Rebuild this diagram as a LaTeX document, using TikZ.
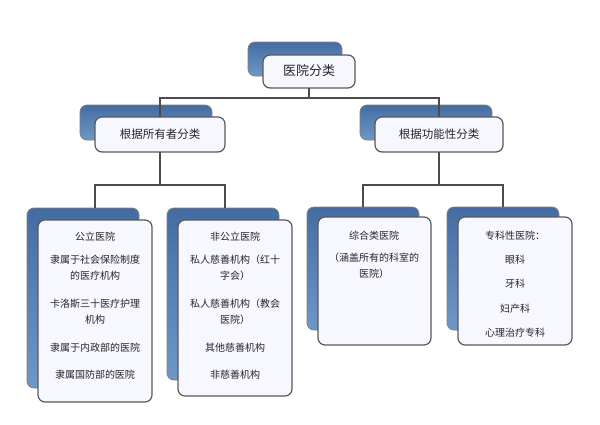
\documentclass[tikz,border=0pt]{standalone}
\usepackage{fontspec}
\newfontfamily\cjk{Noto Sans CJK SC}
\definecolor{bktop}{RGB}{68,108,162}
\definecolor{bkbot}{RGB}{110,152,200}
\begin{document}
\begin{tikzpicture}[x=1pt,y=-1pt,
  back/.style={draw=black!50,rounded corners=7pt,line width=0.8pt,top color=bktop,bottom color=bkbot},
  front/.style={draw=black!65,fill=blue!3!white,rounded corners=7pt,line width=1.2pt},
  conn/.style={draw=black!70,line width=1.2pt},
  txt/.style={font=\cjk\fontsize{10}{16}\selectfont,align=center,text=black!85}]
\useasboundingbox (0,0) rectangle (600,424);
% top
\draw[back] (248,42) rectangle (342,76);
\draw[front] (263,55) rectangle (355,88);
\node[txt,font=\cjk\fontsize{13}{16}\selectfont] (top) at (309,71) {医院分类};
% level 2
\draw[back] (80,105) rectangle (212,140);
\draw[front] (95,117) rectangle (225,152);
\node[txt,font=\cjk\fontsize{11.5}{16}\selectfont] (l) at (160,134) {根据所有者分类};
\draw[back] (360,105) rectangle (492,140);
\draw[front] (375,117) rectangle (503,152);
\node[txt,font=\cjk\fontsize{11.5}{16}\selectfont] (r) at (439,134) {根据功能性分类};
\coordinate (tb) at (309,88); \coordinate (tj) at (309,98);
\coordinate (lt) at (160,117); \coordinate (rt) at (439,117);
\draw[conn] (tb) -- (tj) (lt) |- (tj) -| (rt);
% level 3
\draw[back] (27,208) rectangle (139,388);
\draw[front] (38,220) rectangle (152,402);
\draw[back] (167,208) rectangle (279,380);
\draw[front] (178,220) rectangle (292,396);
\draw[back] (307,207) rectangle (419,330);
\draw[front] (318,217) rectangle (431,345);
\draw[back] (447,207) rectangle (559,330);
\draw[front] (458,217) rectangle (572,345);
\coordinate (lb) at (160,152); \coordinate (lj) at (160,185);
\coordinate (b1) at (95,208); \coordinate (b2) at (225,208);
\draw[conn] (lb) -- (lj) (b1) |- (lj) -| (b2);
\coordinate (rb) at (439,152); \coordinate (rj) at (439,185);
\coordinate (b3) at (363,207); \coordinate (b4) at (503,207);
\draw[conn] (rb) -- (rj) (b3) |- (rj) -| (b4);
% box1 text
\node[txt] (a1) at (95,237) {公立医院};
\node[txt] (a2) at (95,268) {隶属于社会保险制度\\的医疗机构};
\node[txt] (a3) at (95,312) {卡洛斯三十医疗护理\\机构};
\node[txt] (a4) at (95,348) {隶属于内政部的医院};
\node[txt] (a5) at (95,375) {隶属国防部的医院};
% box2
\node[txt] (c1) at (235,237) {非公立医院};
\node[txt] (c2) at (235,268) {私人慈善机构（红十\\字会）};
\node[txt] (c3) at (235,312) {私人慈善机构（教会\\医院）};
\node[txt] (c4) at (235,348) {其他慈善机构};
\node[txt] (c5) at (235,375) {非慈善机构};
% box3
\node[txt] (d1) at (374,236) {综合类医院};
\node[txt] (d2) at (374,266) {（涵盖所有的科室的\\医院）};
% box4
\node[txt] (e1) at (515,236) {专科性医院：};
\node[txt] (e2) at (515,260) {眼科};
\node[txt] (e3) at (515,284) {牙科};
\node[txt] (e4) at (515,309) {妇产科};
\node[txt] (e5) at (515,333) {心理治疗专科};
\end{tikzpicture}
\end{document}
